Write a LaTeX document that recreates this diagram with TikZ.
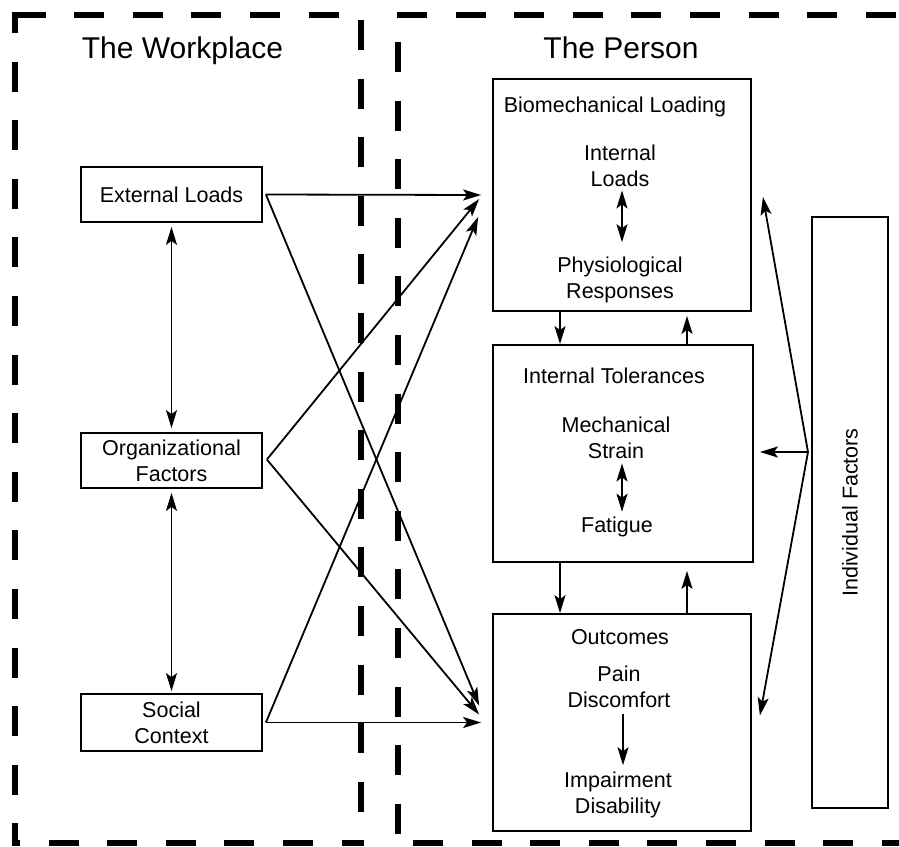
\documentclass[tikz,border=0pt]{standalone}
\usepackage{fontspec}
\setmainfont{Liberation Sans}
\usetikzlibrary{arrows.meta}
\begin{document}
\begin{tikzpicture}[x=1pt,y=-1pt,
  >={Stealth[length=18pt,width=11pt,inset=4pt]},
  box/.style={draw, line width=1.8pt, inner sep=0pt, align=center,
    font=\fontsize{21.5pt}{26pt}\selectfont},
  txt/.style={inner sep=0pt, align=center, anchor=base,
    font=\fontsize{21.5pt}{26pt}\selectfont},
  head/.style={inner sep=0pt, anchor=base, font=\fontsize{30pt}{36pt}\selectfont},
  wire/.style={line width=1.8pt, ->},
  wiretwo/.style={line width=1.8pt, <->},
  frame/.style={line width=6.5pt, dash pattern=on 30pt off 28.6pt},
]
\useasboundingbox (0,0) rectangle (899,846);

% dashed frames: the workplace (left) and the person (right)
\begin{scope}
  \clip (0,0) rectangle (899,846);
  \draw[frame] (15.6,15) -- (361,15);
  \draw[frame, dash phase=8.75pt] (15,11.75) -- (15,846);
  \draw[frame] (361,20) -- (361,846);
  \draw[frame, dash phase=25pt] (15,843) -- (361,843);
  \draw[frame] (397,15) -- (910,15);
  \draw[frame, dash phase=31.6pt] (398,15) -- (398,846);
  \draw[frame, dash phase=43.6pt] (398,843) -- (910,843);
\end{scope}

% headings
\node[head] (wp) at (182.5,58) {The Workplace};
\node[head] (ps) at (621,58) {The Person};

% workplace factors
\node[box, minimum width=181pt, minimum height=55pt] (ext) at (171.5,194.5) {External Loads};
\node[box, minimum width=181pt, minimum height=55pt] (org) at (171.5,460.5) {Organizational\\Factors};
\node[box, minimum width=181pt, minimum height=57pt] (soc) at (171.5,722.5) {Social\\Context};

% person boxes
\node[box, minimum width=258pt, minimum height=232pt] (bio) at (622,195) {};
\node[box, minimum width=260pt, minimum height=217pt] (tol) at (623,453.5) {};
\node[box, minimum width=258pt, minimum height=217pt] (out) at (622,722.5) {};
\node[box, rotate=90, minimum width=591pt, minimum height=76pt] (ind) at (850,512.5) {Individual Factors};

% texts inside the person boxes (base = baseline of the last line)
\node[txt] (bioT) at (615,112) {Biomechanical Loading};
\node[txt] (il) at (620,186) {Internal\\Loads};
\node[txt] (pr) at (620,298) {Physiological\\Responses};
\node[txt] (tolT) at (614,383) {Internal Tolerances};
\node[txt] (ms) at (616,458) {Mechanical\\Strain};
\node[txt] (fa) at (617,532) {Fatigue};
\node[txt] (outT) at (620,644) {Outcomes};
\node[txt] (pd) at (619,707) {Pain\\Discomfort};
\node[txt] (imp) at (618,813) {Impairment\\Disability};

% arrows inside the boxes
\draw[wiretwo] ([xshift=2pt,yshift=-4pt]il.south) -- ([xshift=2pt,yshift=14pt]pr.north);
\draw[wiretwo] ([xshift=6pt,yshift=-5pt]ms.south) -- ([xshift=5pt,yshift=4.5pt]fa.north);
\draw[wire] ([xshift=4pt,yshift=-7pt]pd.south) -- ([xshift=5pt,yshift=6pt]imp.north);

% arrows between the person boxes
\draw[wire] ([xshift=-62pt]bio.south) -- ([xshift=-63pt]tol.north);
\draw[wire] ([xshift=64pt]tol.north) -- ([xshift=65pt,yshift=-4pt]bio.south);
\draw[wire] ([xshift=-63pt]tol.south) -- ([xshift=-62pt]out.north);
\draw[wire] ([xshift=65pt]out.north) -- ([xshift=64pt,yshift=-8pt]tol.south);

% links among the workplace factors
\draw[wiretwo] ([yshift=-4pt]ext.south) -- ([yshift=4pt]org.north);
\draw[wiretwo] ([yshift=-4pt]org.south) -- ([yshift=2pt]soc.north);

% workplace to person
\coordinate (extO) at ([xshift=3pt]ext.east);
\coordinate (orgO) at ([xshift=4pt,yshift=1pt]org.east);
\coordinate (socO) at ([xshift=3pt]soc.east);
\draw[wire] (extO) -- ([xshift=-11pt]bio.west);
\draw[wire] (extO) -- ([xshift=-13pt,yshift=17pt]out.west);
\draw[wire] (orgO) -- ([xshift=-13pt,yshift=-4pt]bio.west);
\draw[wire] (orgO) -- ([xshift=-13pt,yshift=8pt]out.west);
\draw[wire] (socO) -- ([xshift=-14pt,yshift=-22pt]bio.west);
\draw[wire] (socO) -- ([xshift=-11pt]out.west);

% individual factors
\coordinate (apex) at (808,452);
\draw[wire] (apex) -- ([xshift=11pt,yshift=-2pt]bio.east);
\draw[wire] (apex) -- ([xshift=6pt,yshift=1.5pt]tol.east);
\draw[wire] (apex) -- ([xshift=8pt,yshift=7pt]out.east);
\end{tikzpicture}
\end{document}
